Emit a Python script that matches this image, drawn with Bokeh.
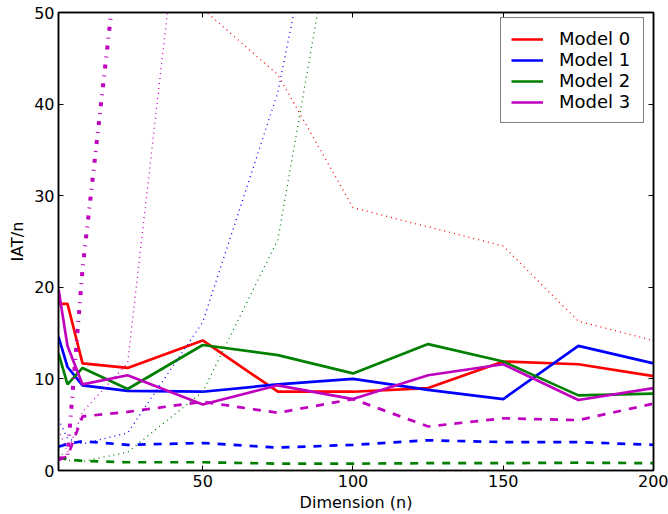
from bokeh.plotting import figure
from bokeh.models import Range1d, LinearAxis, FixedTicker, Legend, LegendItem
from bokeh.embed import file_html
from bokeh.resources import INLINE

# ---- data ----
dims = [2, 5, 10, 25, 50, 75, 100, 125, 150, 175, 200]
models = ["Model 0", "Model 1", "Model 2", "Model 3"]
colors = ["#ff0000", "#0000ff", "#008000", "#bf00bf"]

solid_m0 = [18.2, 18.2, 11.7, 11.2, 14.2, 8.6, 8.6, 9.0, 11.9, 11.6, 10.3]
solid_m1 = [14.6, 11.3, 9.3, 8.7, 8.6, 9.4, 10.0, 8.8, 7.8, 13.6, 11.7]
solid_m2 = [12.8, 9.4, 11.2, 8.9, 13.7, 12.6, 10.6, 13.8, 11.9, 8.2, 8.4]
solid_m3 = [19.8, 13.6, 9.4, 10.4, 7.2, 9.3, 7.8, 10.4, 11.6, 7.7, 9.0]

dashed_m1 = [2.6, 2.9, 3.2, 2.8, 3.0, 2.5, 2.8, 3.3, 3.1, 3.1, 2.8]
dashed_m2 = [1.4, 1.2, 1.05, 0.9, 0.9, 0.75, 0.75, 0.8, 0.8, 0.85, 0.8]
dashed_m3 = [1.3, 1.5, 5.9, 6.4, 7.5, 6.3, 7.8, 4.8, 5.7, 5.5, 7.3]

dotted_m0 = [95.0, 80.0, 70.0, 60.0, 50.4, 43.2, 28.7, 26.6, 24.5, 16.3, 14.2]
dotted_m1 = [5.6, 3.5, 2.9, 4.1, 16.2, 41.3, 82.0, 130.0, 190.0, 260.0, 340.0]
dotted_m2 = [2.2, 1.1, 1.0, 2.0, 8.6, 25.2, 72.0, 120.0, 180.0, 250.0, 330.0]
dotted_m3 = [4.5, 2.0, 6.4, 11.7, 84.0, 160.0, 260.0, 380.0, 520.0, 680.0, 860.0]

dashdot_m3 = [1.2, 1.6, 22.0, 66.0, 140.0, 230.0, 340.0, 470.0, 620.0, 790.0, 980.0]

x_ticks = [50, 100, 150, 200]
y_ticks = [0, 10, 20, 30, 40, 50]

# ---- figure ----
p = figure(width=668, height=514, x_range=Range1d(2, 200), y_range=Range1d(0, 50),
           output_backend="svg", toolbar_location=None,
           min_border_left=58, min_border_right=15, min_border_top=12, min_border_bottom=42)
p.grid.visible = False
p.outline_line_color = "black"
p.outline_line_width = 1.5
p.background_fill_color = "white"
p.border_fill_color = "white"

p.add_layout(LinearAxis(), "right")
p.add_layout(LinearAxis(), "above")

for ax in p.xaxis:
    ax.ticker = FixedTicker(ticks=x_ticks)
for ax in p.yaxis:
    ax.ticker = FixedTicker(ticks=y_ticks)

for ax in p.axis:
    ax.major_tick_in = 5
    ax.major_tick_out = 0
    ax.minor_tick_line_color = None
    ax.axis_line_color = "black"
    ax.axis_line_width = 1.5
    ax.major_tick_line_color = "black"
    ax.major_label_text_font = "DejaVu Sans"
    ax.major_label_text_font_size = "16px"
    ax.major_label_text_color = "black"
    ax.major_label_standoff = 4
    ax.axis_label_text_font = "DejaVu Sans"
    ax.axis_label_text_font_size = "16px"
    ax.axis_label_text_font_style = "normal"
    ax.axis_label_text_color = "black"

# top and right axes carry only the inward tick marks
p.right[0].major_label_overrides = {t: "" for t in y_ticks}
p.above[0].major_label_overrides = {t: "" for t in x_ticks}
p.right[0].major_label_standoff = 0
p.above[0].major_label_standoff = 0

p.below[0].axis_label = "Dimension (n)"
p.below[0].axis_label_standoff = 3
p.left[0].axis_label = "IAT/n"
p.left[0].axis_label_standoff = 4

solids = [solid_m0, solid_m1, solid_m2, solid_m3]
items = []
for name, col, ys in zip(models, colors, solids):
    r = p.line(dims, ys, line_color=col, line_width=2.7)
    items.append(LegendItem(label=name, renderers=[r]))

for col, ys in zip(colors[1:], [dashed_m1, dashed_m2, dashed_m3]):
    p.line(dims, ys, line_color=col, line_width=2.7, line_dash="8 8")

for col, ys in zip(colors, [dotted_m0, dotted_m1, dotted_m2, dotted_m3]):
    p.line(dims, ys, line_color=col, line_width=1.3, line_dash="1 4")

p.line(dims, dashdot_m3, line_color=colors[3], line_width=4, line_dash="4 7 1 7")

legend = Legend(items=items, location=(442, 347))
legend.margin = 0
legend.padding = 10
legend.spacing = 0
legend.glyph_width = 32
legend.glyph_height = 20
legend.label_height = 20
legend.label_width = 74
legend.label_standoff = 16
legend.label_text_font = "DejaVu Sans"
legend.label_text_font_size = "18px"
legend.label_text_color = "black"
legend.border_line_color = "black"
legend.border_line_width = 1
legend.background_fill_alpha = 1
p.add_layout(legend)

open("out.html", "w").write(file_html(p, INLINE))
